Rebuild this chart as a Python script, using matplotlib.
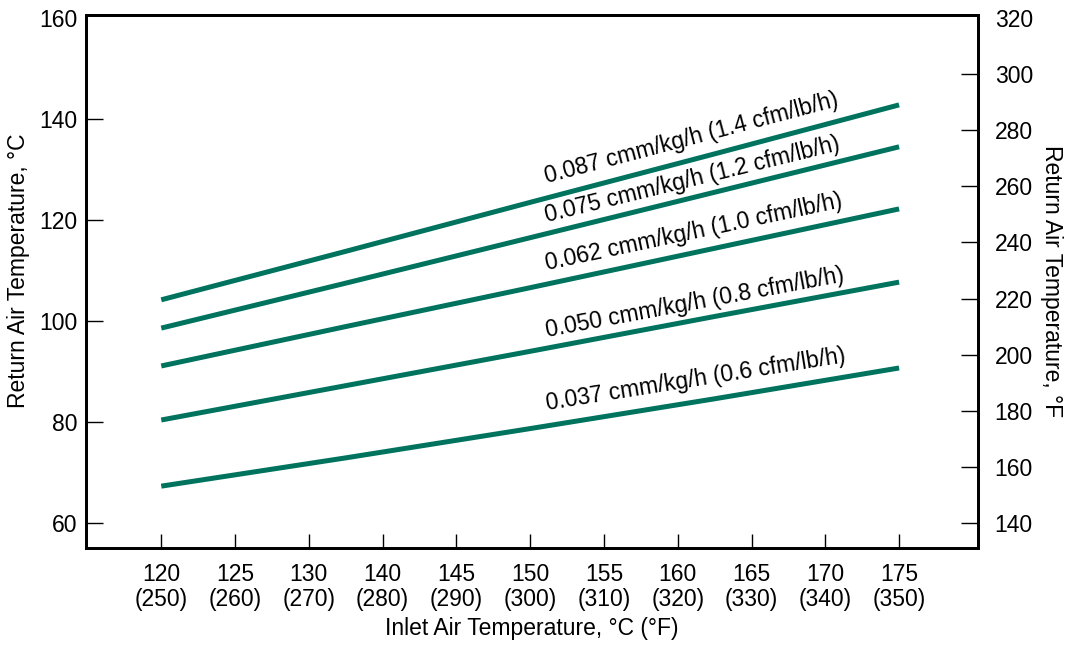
import math
import matplotlib
matplotlib.use('Agg')
import matplotlib.pyplot as plt

plt.rcParams['font.family'] = ['Liberation Sans', 'DejaVu Sans']
TEAL = '#00735f'
FS = 16.5

# inlet air temperature (F) where each curve is read
inlet_f = [250, 275, 300, 325, 350]
# return air temperature (C) for each airflow
ret_087 = [104.2, 113.8, 123.5, 133.1, 142.8]
ret_075 = [98.6, 107.5, 116.5, 125.5, 134.5]
ret_062 = [91.1, 98.9, 106.6, 114.4, 122.2]
ret_050 = [80.4, 87.2, 94.0, 100.9, 107.7]
ret_037 = [67.3, 72.9, 78.7, 84.6, 90.7]

curve_labels = ['0.087 cmm/kg/h (1.4 cfm/lb/h)',
                '0.075 cmm/kg/h (1.2 cfm/lb/h)',
                '0.062 cmm/kg/h (1.0 cfm/lb/h)',
                '0.050 cmm/kg/h (0.8 cfm/lb/h)',
                '0.037 cmm/kg/h (0.6 cfm/lb/h)']
label_gap = [15, 11, 14, 11, 14]  # pixels above the line
label_x = 302.3

xtick_f = [250, 260, 270, 280, 290, 300, 310, 320, 330, 340, 350]
xtick_c = ['120', '125', '130', '140', '145', '150', '155', '160', '165', '170', '175']
ytick_c = [60, 80, 100, 120, 140]
ytop_c = 160
ytick_f = [140, 160, 180, 200, 220, 240, 260, 280, 300]
ytop_f = 320

fig = plt.figure(figsize=(10.71, 6.49), dpi=100)
ax = fig.add_axes([0.0803, 0.1556, 0.8329, 0.8213])
ax.set_xlim(239.8, 360.7)
ax.set_ylim(55.05, 160.6)

curves = [ret_087, ret_075, ret_062, ret_050, ret_037]
for ys in curves:
    ax.plot(inlet_f, ys, color=TEAL, lw=3.6, solid_capstyle='butt')

for ys, text, gap in zip(curves, curve_labels, label_gap):
    p0 = ax.transData.transform((inlet_f[0], ys[0]))
    p1 = ax.transData.transform((inlet_f[-1], ys[-1]))
    ang = math.degrees(math.atan2(p1[1] - p0[1], p1[0] - p0[0]))
    frac = (label_x - inlet_f[0]) / (inlet_f[-1] - inlet_f[0])
    yl = ys[0] + frac * (ys[-1] - ys[0])
    ax.annotate(text, xy=(label_x, yl), xytext=(0, gap), textcoords='offset pixels',
                ha='left', va='baseline', rotation=ang, rotation_mode='anchor',
                fontsize=FS)

ax.set_xticks(xtick_f)
ax.set_xticklabels(['{}\n({})'.format(c, f) for c, f in zip(xtick_c, xtick_f)],
                   linespacing=1.1)
ax.set_yticks(ytick_c)
ax.set_yticks([ytop_c], minor=True)
ax.set_yticklabels([str(ytop_c)], minor=True)
ax.set_xticks([], minor=True)
ax.tick_params(axis='x', direction='in', length=10, width=1, pad=11, labelsize=FS)
ax.tick_params(axis='y', which='both', direction='in', length=12, width=1, pad=6, labelsize=FS)
ax.tick_params(axis='y', which='minor', length=0)
ax.set_xlabel('Inlet Air Temperature, °C (°F)', fontsize=FS, labelpad=4)
ax.set_ylabel('Return Air Temperature, °C', fontsize=FS)
ax.yaxis.set_label_coords(-0.063, 0.52)

ax2 = ax.twinx()
lo, hi = ax.get_ylim()
ax2.set_ylim(lo * 1.8 + 32, hi * 1.8 + 32)
ax2.set_yticks(ytick_f)
ax2.set_yticks([ytop_f], minor=True)
ax2.set_yticklabels([str(ytop_f)], minor=True)
ax2.tick_params(axis='y', which='both', direction='in', length=12, width=1, pad=12, labelsize=FS)
ax2.tick_params(axis='y', which='minor', length=0)
ax2.set_ylabel('Return Air Temperature, °F', fontsize=FS, rotation=270, va='bottom')
ax2.yaxis.set_label_coords(1.0695, 0.5)

for a in (ax, ax2):
    for s in a.spines.values():
        s.set_linewidth(2)

fig.savefig('out.png', dpi=100)
